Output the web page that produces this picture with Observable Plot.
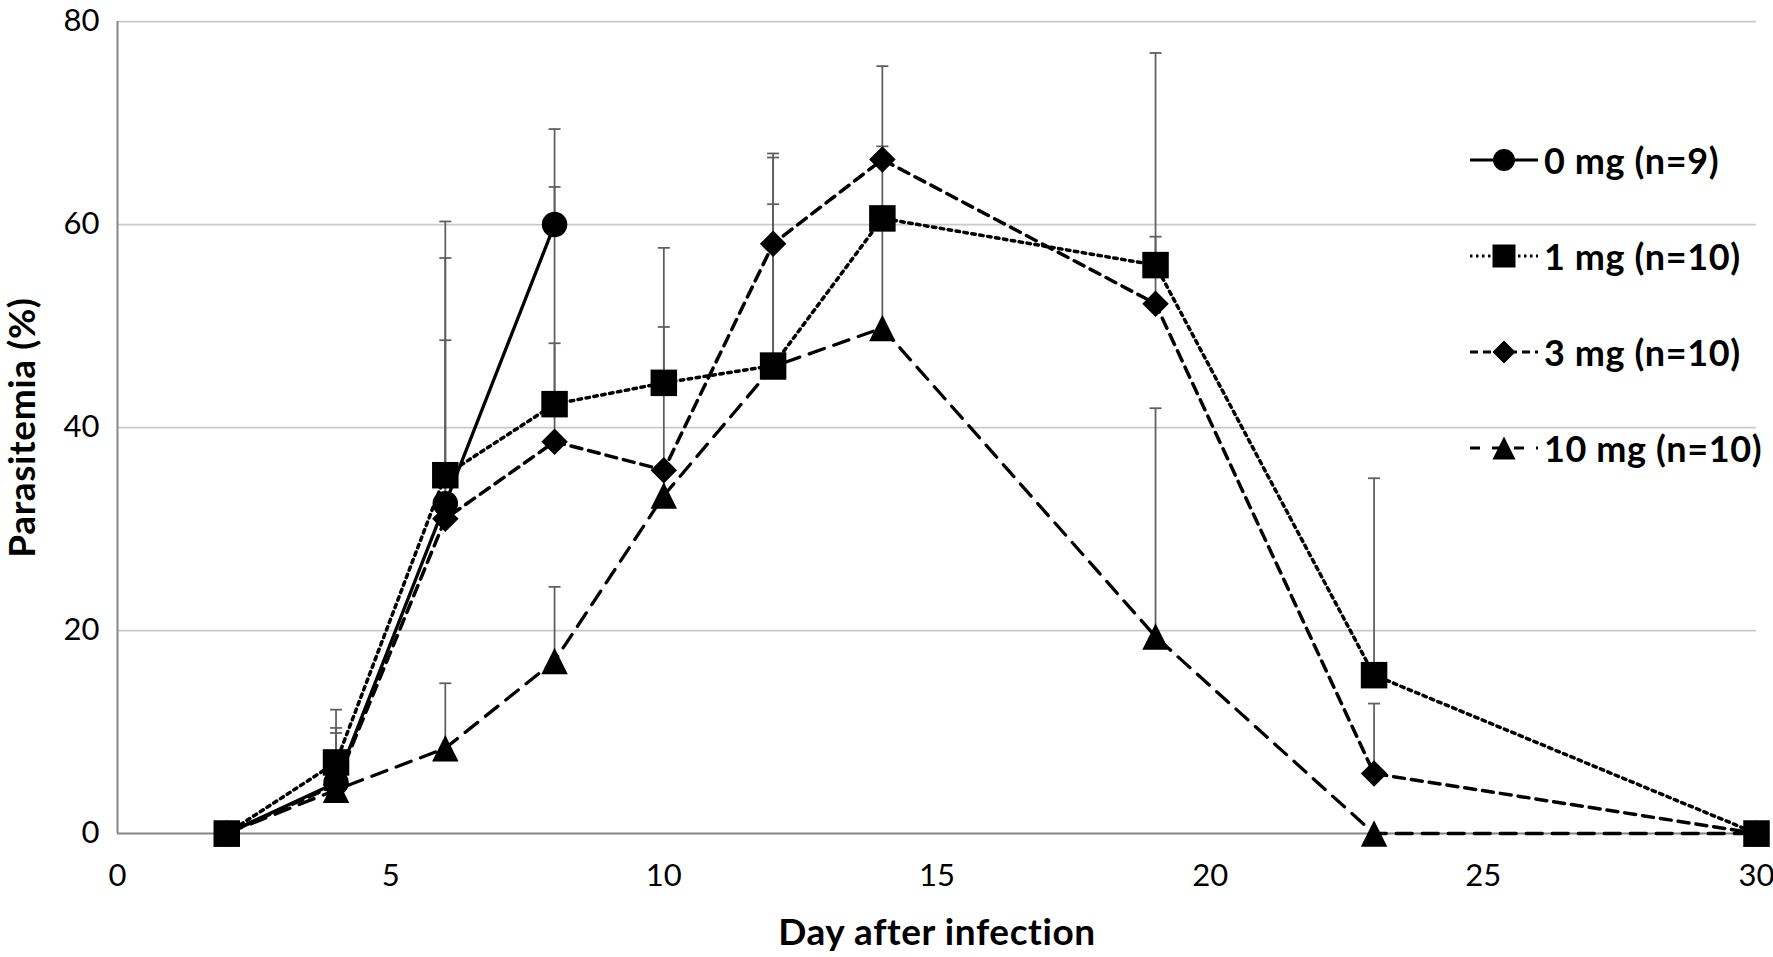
<!DOCTYPE html>
<html>
<head>
<meta charset="utf-8">
<script src="https://cdn.jsdelivr.net/npm/d3@7"></script>
<script src="https://cdn.jsdelivr.net/npm/@observablehq/plot@0.6"></script>
<style>
  html, body { margin: 0; padding: 0; background: #fff; }
  #wrap { position: relative; width: 1773px; height: 957px; font-family: Lato, "Open Sans", sans-serif; }
  #legend { position: absolute; left: 0; top: 0; }
  .lrow { position: absolute; display: flex; align-items: center; height: 40px; }
  .lrow span { font-weight: bold; font-size: 36px; color: #000; white-space: nowrap; letter-spacing: 0.6px; }
</style>
</head>
<body>
<div id="wrap"><div id="legend"></div></div>
<script>
// ---- data ----
const xTicks = [0, 5, 10, 15, 20, 25, 30];
const yTicks = [0, 20, 40, 60, 80];
const xTitle = "Day after infection";
const yTitle = "Parasitemia (%)";

const seriesNames = ["0 mg (n=9)", "1 mg (n=10)", "3 mg (n=10)", "10 mg (n=10)"];

const days0 = [2, 4, 6, 8];
const mean0 = [0, 5.0, 32.5, 60.0];
const sd0   = [0, 5.4, 27.8, 9.4];

const days  = [2, 4, 6, 8, 10, 12, 14, 19, 23, 30];
const mean1 = [0, 7.0, 35.3, 42.3, 44.4, 46.1, 60.6, 56.0, 15.6, 0];
const sd1   = [0, 5.2, 21.4, 21.4, 13.3, 20.5, 7.1, 20.9, 19.4, 0];

const mean3 = [0, 4.8, 31.0, 38.6, 35.8, 58.1, 66.4, 52.2, 5.9, 0];
const sd3   = [0, 5.1, 17.6, 9.7, 14.1, 8.9, 9.2, 6.6, 6.9, 0];

const mean10 = [0, 4.3, 8.4, 17.0, 33.3, 46.0, 49.8, 19.4, 0, 0];
const sd10   = [0, 1.5, 6.4, 7.3, 2.0, 16.0, 10.5, 22.5, 0, 0];

// ---- symbols ----
const symCircle = {draw(c, size) { const s = Math.sqrt(size) / 2; c.moveTo(s, 0); c.arc(0, 0, s, 0, 2 * Math.PI); }};
const symSquare = {draw(c, size) { const s = Math.sqrt(size) / 2; c.rect(-s, -s, 2 * s, 2 * s); }};
const symDiamond = {draw(c, size) { const s = Math.sqrt(size) / 2; c.moveTo(0, -s); c.lineTo(s, 0); c.lineTo(0, s); c.lineTo(-s, 0); c.closePath(); }};
const symTriangle = {draw(c, size) { const s = Math.sqrt(size) / 2; c.moveTo(0, -s); c.lineTo(s, s); c.lineTo(-s, s); c.closePath(); }};
const symCap = {draw(c, size) { const s = Math.sqrt(size) / 2; c.moveTo(-s, 0); c.lineTo(s, 0); }};
const rFor = (b) => b / Math.sqrt(Math.PI); // bounding size -> Plot r

const styles = [
  {symbol: symCircle,   box: 25.5, dash: null,      width: 3.3, lbox: 22, ldash: null},
  {symbol: symSquare,   box: 26.5, dash: "3.5,4.5", width: 3.5, lbox: 23, ldash: "2.5,3.5"},
  {symbol: symDiamond,  box: 26.5, dash: "11,7",    width: 3.5, lbox: 23, ldash: "8,5"},
  {symbol: symTriangle, box: 26.5, dash: "16,10",   width: 3.3, lbox: 23, ldash: "10,12"}
];

const seriesData = [
  {days: days0, mean: mean0, sd: sd0},
  {days: days,  mean: mean1, sd: sd1},
  {days: days,  mean: mean3, sd: sd3},
  {days: days,  mean: mean10, sd: sd10}
].map((s, k) => s.days.map((d, i) => ({series: seriesNames[k], day: d, mean: s.mean[i], sd: s.sd[i]})));

const allRows = seriesData.flat();
const bars = allRows.filter(d => d.sd > 0).map(d => ({...d, top: d.mean + d.sd}));

const marks = [
  Plot.ruleY(yTicks.filter(v => v > 0), {stroke: "#c9c9c9", strokeWidth: 1.75}),
  Plot.ruleY([0], {stroke: "#868686", strokeWidth: 2}),
  Plot.ruleX([0], {stroke: "#868686", strokeWidth: 2}),
  Plot.ruleX(bars, {x: "day", y1: "mean", y2: "top", stroke: "#5e5e5e", strokeWidth: 1.75}),
  Plot.dot(bars, {x: "day", y: "top", symbol: symCap, r: rFor(12), stroke: "#5e5e5e", strokeWidth: 1.75, fill: "none"})
];
seriesData.forEach((rows, k) => {
  const st = styles[k];
  marks.push(Plot.line(rows, {x: "day", y: "mean", stroke: "black", strokeWidth: st.width, strokeDasharray: st.dash, strokeLinejoin: "round"}));
  marks.push(Plot.dot(rows, {x: "day", y: "mean", symbol: st.symbol, r: rFor(st.box), fill: "black", stroke: "none"}));
});
marks.push(Plot.text([yTitle], {frameAnchor: "left", rotate: -90, dx: -94, textAnchor: "middle", lineAnchor: "middle", fontWeight: "bold", fontSize: 37, fill: "black"}));
marks.push(Plot.text([xTitle], {frameAnchor: "bottom", dx: 0, dy: 100, textAnchor: "middle", lineAnchor: "middle", fontWeight: "bold", fontSize: 37, fill: "black"}));

const chart = Plot.plot({
  width: 1773,
  height: 957,
  marginLeft: 117,
  marginRight: 17,
  marginTop: 21,
  marginBottom: 124,
  x: {domain: [0, 30], ticks: xTicks, tickSize: 0, tickPadding: 30, label: null},
  y: {domain: [0, 80], ticks: yTicks, tickSize: 0, tickPadding: 18, label: null},
  style: {fontFamily: "Lato, 'Open Sans', sans-serif", fontSize: "31px", color: "black", background: "white", overflow: "visible"},
  marks
});
chart.querySelectorAll("text").forEach(t => { if (t.textContent === xTitle || t.textContent === yTitle) t.setAttribute("letter-spacing", "0.6"); });
document.getElementById("wrap").prepend(chart);

// ---- legend (HTML overlay) ----
const legendRows = [160, 256, 352, 448];
const legend = d3.select("#legend");
seriesNames.forEach((name, k) => {
  const st = styles[k];
  const row = legend.append("div").attr("class", "lrow")
    .style("left", "1470px").style("top", (legendRows[k] - 20) + "px");
  const svg = row.append("svg").attr("width", 74).attr("height", 40);
  svg.append("line").attr("x1", 0).attr("x2", 68).attr("y1", 20).attr("y2", 20)
    .attr("stroke", "black").attr("stroke-width", 3)
    .attr("stroke-dasharray", st.ldash);
  const size = st.lbox * st.lbox;
  svg.append("path").attr("transform", "translate(34,20)")
    .attr("d", d3.symbol(st.symbol, size)()).attr("fill", "black");
  row.append("span").text(name);
});
</script>
</body>
</html>
